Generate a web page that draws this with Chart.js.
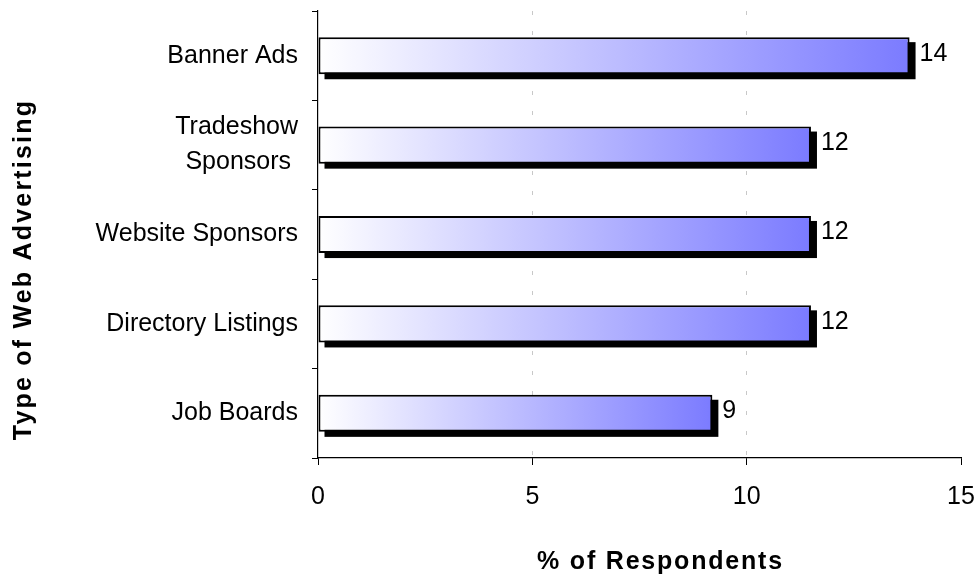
<!DOCTYPE html>
<html>
<head>
<meta charset="utf-8">
<script src="https://cdn.jsdelivr.net/npm/chart.js@4"></script>
<style>
  html, body { margin: 0; padding: 0; background: #fff; }
  #wrap { width: 977px; height: 575px; }
</style>
</head>
<body>
<div id="wrap"><canvas id="chart" width="977" height="575"></canvas></div>
<script>
// categories, top to bottom
const categories = ["Banner Ads", ["Tradeshow", "Sponsors "], "Website Sponsors", "Directory Listings", "Job Boards"];
// % of respondents (bar lengths), labels shown rounded
const values = [13.8, 11.5, 11.5, 11.5, 9.2];
const valueLabels = ["14", "12", "12", "12", "9"];
const xTicks = [0, 5, 10, 15];
const xTitle = "% of Respondents";
const yTitle = "Type of Web Advertising";

const FONT = "'Liberation Sans', Arial, sans-serif";

// per-bar white -> blue gradient, from 0 to the bar's end
function barGradient(ctx) {
  const chart = ctx.chart;
  if (!chart.chartArea || ctx.dataIndex === undefined) return '#7f7fff';
  const xs = chart.scales.x;
  const x0 = xs.getPixelForValue(0);
  const x1 = xs.getPixelForValue(values[ctx.dataIndex]);
  const g = chart.ctx.createLinearGradient(x0, 0, x1, 0);
  g.addColorStop(0, '#ffffff');
  g.addColorStop(1, '#7b7bff');
  return g;
}

// black drop shadow behind each bar
const shadowPlugin = {
  id: 'shadow',
  beforeDatasetsDraw(chart) {
    const ctx = chart.ctx;
    const meta = chart.getDatasetMeta(0);
    ctx.save();
    ctx.fillStyle = '#000';
    meta.data.forEach(bar => {
      const h = bar.height;
      const left = Math.min(bar.base, bar.x);
      const w = Math.abs(bar.x - bar.base);
      ctx.fillRect(left + 6, bar.y - h / 2 + 5, w, h);
    });
    ctx.restore();
  }
};

// value labels at bar ends, plus the spaced-out axis titles
const textPlugin = {
  id: 'texts',
  afterDatasetsDraw(chart) {
    const ctx = chart.ctx;
    const meta = chart.getDatasetMeta(0);
    ctx.save();
    ctx.fillStyle = '#000';
    ctx.font = '25px ' + FONT;
    ctx.textAlign = 'left';
    ctx.textBaseline = 'middle';
    meta.data.forEach((bar, i) => {
      ctx.fillText(valueLabels[i], bar.x + 10, bar.y - 2);
    });
    ctx.restore();
  },
  afterDraw(chart) {
    const ctx = chart.ctx;
    const a = chart.chartArea;
    ctx.save();
    ctx.fillStyle = '#000';
    ctx.font = 'bold 25px ' + FONT;
    ctx.textAlign = 'center';
    ctx.textBaseline = 'alphabetic';
    ctx.letterSpacing = '1.8px';
    ctx.fillText(xTitle, (a.left + a.right) / 2 + 21, 569);
    ctx.letterSpacing = '2.2px';
    ctx.translate(31, (a.top + a.bottom) / 2 + 35);
    ctx.rotate(-Math.PI / 2);
    ctx.fillText(yTitle, 0, 0);
    ctx.restore();
  }
};

new Chart(document.getElementById('chart'), {
  type: 'bar',
  data: {
    labels: categories,
    datasets: [{
      data: values,
      backgroundColor: barGradient,
      borderColor: '#000',
      borderWidth: 2,
      borderSkipped: false,
      categoryPercentage: 1,
      barPercentage: 0.415
    }]
  },
  options: {
    indexAxis: 'y',
    responsive: false,
    animation: false,
    layout: { padding: { left: 0, top: 11, right: 16, bottom: 0 } },
    plugins: {
      legend: { display: false },
      tooltip: { enabled: false }
    },
    scales: {
      x: {
        min: 0,
        max: 15,
        afterBuildTicks: axis => { axis.ticks = xTicks.map(v => ({ value: v })); },
        afterFit: axis => {
          axis.height = 117;
          axis.paddingLeft = 0;
          axis.paddingRight = 0;
        },
        ticks: {
          color: '#000',
          padding: 17,
          font: { family: FONT, size: 25 }
        },
        grid: {
          color: c => (c.tick && (c.tick.value === 5 || c.tick.value === 10)) ? '#c8c8c8' : 'rgba(0,0,0,0)',
          tickColor: '#000',
          tickLength: 7,
          lineWidth: 1
        },
        border: { color: '#000', width: 1.2, dash: [4, 16] }
      },
      y: {
        afterFit: axis => {
          axis.width = 318;
          axis.paddingTop = 0;
          axis.paddingBottom = 0;
        },
        ticks: {
          color: '#000',
          padding: 14,
          font: { family: FONT, size: 25, lineHeight: 1.4 }
        },
        grid: {
          offset: true,
          drawOnChartArea: false,
          tickColor: '#000',
          tickLength: 6
        },
        border: { color: '#000', width: 1.2 }
      }
    }
  },
  plugins: [shadowPlugin, textPlugin]
});
</script>
</body>
</html>
